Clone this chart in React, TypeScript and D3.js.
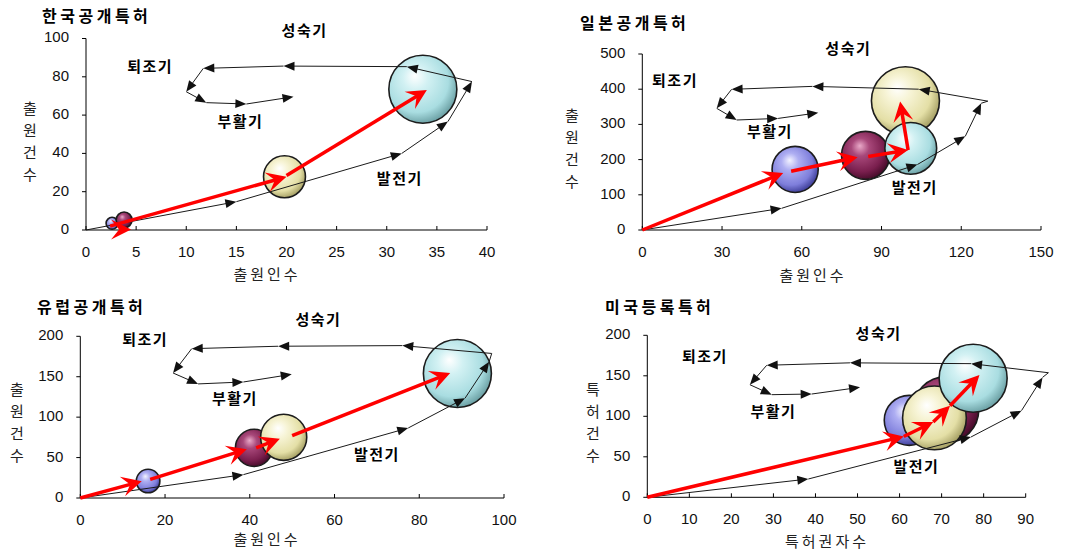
import React from 'react';
import * as d3 from 'd3';

const W = 1070;
const H = 556;
const FONT_KR = "'Noto Sans CJK KR', 'Noto Sans', sans-serif";
const FONT_NUM = "'Liberation Sans', Arial, sans-serif";

// ---------- data ----------
const titles = ['한국공개특허', '일본공개특허', '유럽공개특허', '미국등록특허'];
const xTitles = ['출원인수', '출원인수', '출원인수', '특허권자수'];
const yTitles = ['출원건수', '출원건수', '출원건수', '특허건수'];
const xMaxes = [40, 150, 100, 90];
const xSteps = [5, 30, 20, 10];
const yMaxes = [100, 500, 200, 200];
const ySteps = [20, 100, 50, 50];
const stageNames = ['성숙기', '퇴조기', '부활기', '발전기'];

// bubbles (drawing order) : x, y, size, colour key
const koreaBubbleX = [2.6, 3.8, 19.8, 33.6];
const koreaBubbleY = [3.5, 5.2, 27.8, 73.5];
const koreaBubbleSize = [3.1, 5.5, 38, 100];
const koreaBubbleKey = ['blue', 'maroon', 'yellow', 'cyan'];

const japanBubbleX = [99, 57.5, 84, 101];
const japanBubbleY = [367, 172, 212, 232];
const japanBubbleSize = [100, 46, 50, 58];
const japanBubbleKey = ['yellow', 'blue', 'maroon', 'cyan'];

const europeBubbleX = [16, 41, 48, 89];
const europeBubbleY = [21, 62, 75, 154];
const europeBubbleSize = [12, 30, 46, 100];
const europeBubbleKey = ['blue', 'maroon', 'yellow', 'cyan'];

const usaBubbleX = [62.3, 71, 68.3, 77.5];
const usaBubbleY = [95, 108, 98, 147];
const usaBubbleSize = [54, 94, 88, 100];
const usaBubbleKey = ['blue', 'maroon', 'yellow', 'cyan'];

// red trend arrows [x1, y1, x2, y2]
const koreaRed = [[3.6, 0.2, 3.9, 4.6], [2.4, 2.0, 20, 27.8], [20, 28.5, 34, 73.1]];
const japanRed = [[0, 0, 53, 162], [56, 167, 81, 207], [85, 209, 100, 227], [100, 227, 97, 365]];
const europeRed = [[0, 0, 14.5, 20.7], [16.5, 23, 39.3, 60.3], [41.5, 62, 47.1, 73.4], [50, 77, 87.3, 154.6]];
const usaRed = [[0, 0, 61, 75], [61, 75, 68, 93], [68, 93, 72, 113], [72, 113, 79, 151]];

// life-cycle path [x, y, arrowhead at this point]
const koreaCycle = [[0, 0, 0], [15, 14.8, 1], [31.5, 40, 1], [36.1, 56.6, 1], [38.5, 77.5, 1], [32, 85.3, 1], [19.7, 85.6, 1], [11.7, 84.4, 1], [10.0, 72.2, 1], [12, 66.5, 1], [16, 65.8, 1], [20.7, 69.6, 1]];
const japanCycle = [[0, 0, 0], [52.4, 61.6, 1], [103.5, 186, 1], [121.5, 266, 1], [127.5, 360, 1], [130, 366, 0], [104, 400, 1], [64, 408, 1], [33.6, 399.6, 1], [28, 345.6, 1], [35.5, 312.5, 1], [51.1, 317, 1], [66.2, 333, 1]];
const europeCycle = [[0, 0, 0], [38.5, 28.9, 1], [77.4, 86.6, 1], [90.8, 123.4, 1], [96.5, 168.6, 1], [97.1, 178.8, 0], [76, 188.5, 1], [46.7, 187.7, 1], [26.3, 184.7, 1], [21.9, 154.6, 1], [27.8, 141.1, 1], [38.5, 143.5, 1], [49.9, 153, 1]];
const usaCycle = [[0, 0, 0], [38.3, 22.6, 1], [77, 74.5, 1], [89, 107, 1], [94, 148, 1], [95.4, 153.8, 0], [77, 165, 1], [48.2, 166, 1], [28.4, 163, 1], [24.4, 139, 1], [29.6, 126.7, 1], [39.1, 127.5, 1], [50.6, 135.8, 1]];

// stage label anchors (data coords) in order of stageNames
const koreaStages = [[21.8, 103.4], [6.4, 84.6], [15.4, 55.9], [31.3, 26]];
const japanStages = [[77.5, 511], [12.3, 421], [48, 275], [102.5, 118]];
const europeStages = [[56.2, 218.6], [15.3, 193.9], [36.5, 121.6], [70, 51.6]];
const usaStages = [[55, 200.7], [13.7, 172], [30, 104], [64, 36]];

// ---------- layout ----------
const frames = [
  { x0: 86, x1: 487, y0: 230, y1: 38.5, title: [42, 18], xt: [267, 276], yt: [30, 110] },
  { x0: 642.3, x1: 1041, y0: 230, y1: 54, title: [580, 25], xt: [813, 277], yt: [572, 117] },
  { x0: 80.3, x1: 504, y0: 498, y1: 336.3, title: [37, 309], xt: [267, 541], yt: [17, 391] },
  { x0: 647.3, x1: 1025.7, y0: 497.3, y1: 335.3, title: [605, 309], xt: [827, 543], yt: [593, 391] },
];

const bubbleSets = [
  { x: koreaBubbleX, y: koreaBubbleY, s: koreaBubbleSize, k: koreaBubbleKey },
  { x: japanBubbleX, y: japanBubbleY, s: japanBubbleSize, k: japanBubbleKey },
  { x: europeBubbleX, y: europeBubbleY, s: europeBubbleSize, k: europeBubbleKey },
  { x: usaBubbleX, y: usaBubbleY, s: usaBubbleSize, k: usaBubbleKey },
];
const redSets = [koreaRed, japanRed, europeRed, usaRed];
const cycleSets = [koreaCycle, japanCycle, europeCycle, usaCycle];
const stageSets = [koreaStages, japanStages, europeStages, usaStages];

const gradStops: Record<string, string[]> = {
  cyan: ['#ffffff', '#d2f1f3', '#a9dde1', '#6a9fa3'],
  yellow: ['#ffffff', '#f7f4d6', '#e4dfa6', '#a49e62'],
  maroon: ['#e9a9c8', '#a8487a', '#7a1f4e', '#450b29'],
  blue: ['#f2f2ff', '#aeaef2', '#7e7edb', '#3c3c96'],
};

const rScale = d3.scaleSqrt().domain([0, 100]).range([0, 34]);

function shorten(x1: number, y1: number, x2: number, y2: number, d: number) {
  const dx = x2 - x1, dy = y2 - y1;
  const L = Math.hypot(dx, dy) || 1;
  const k = Math.max(0, (L - d) / L);
  return [x1 + dx * k, y1 + dy * k];
}

function PanelView({ i }: { i: number }) {
  const f = frames[i];
  const xs = d3.scaleLinear().domain([0, xMaxes[i]]).range([f.x0, f.x1]);
  const ys = d3.scaleLinear().domain([0, yMaxes[i]]).range([f.y0, f.y1]);
  const xTicks = d3.range(0, xMaxes[i] + xSteps[i] / 2, xSteps[i]);
  const yTicks = d3.range(0, yMaxes[i] + ySteps[i] / 2, ySteps[i]);
  const b = bubbleSets[i];
  const cyc = cycleSets[i];
  const segs: any[] = [];
  for (let j = 1; j < cyc.length; j++) {
    const [ax, ay] = [xs(cyc[j - 1][0]), ys(cyc[j - 1][1])];
    const [bx, by] = [xs(cyc[j][0]), ys(cyc[j][1])];
    const arrow = cyc[j][2] === 1;
    const [ex, ey] = arrow ? shorten(ax, ay, bx, by, 3) : [bx, by];
    segs.push(
      <line key={'c' + j} x1={ax} y1={ay} x2={ex} y2={ey} stroke="#1a1a1a" strokeWidth={1}
        markerEnd={arrow ? 'url(#blackHead)' : undefined} />
    );
  }
  return (
    <g>
      {/* axes */}
      <line x1={f.x0} y1={f.y0} x2={f.x1} y2={f.y0} stroke="#000" strokeWidth={1} />
      <line x1={f.x0} y1={f.y0} x2={f.x0} y2={f.y1} stroke="#000" strokeWidth={1} />
      {xTicks.map((t) => (
        <g key={'xt' + t}>
          <line x1={xs(t)} x2={xs(t)} y1={f.y0} y2={f.y0 - 4} stroke="#000" />
          <text x={xs(t)} y={f.y0 + 23} textAnchor="middle" dominantBaseline="middle"
            fontFamily={FONT_NUM} fontSize={15} fill="#111">{t}</text>
        </g>
      ))}
      {yTicks.map((t) => (
        <g key={'yt' + t}>
          <line x1={f.x0} x2={f.x0 - 4} y1={ys(t)} y2={ys(t)} stroke="#000" />
          <text x={f.x0 - 17} y={ys(t)} textAnchor="end" dominantBaseline="middle"
            fontFamily={FONT_NUM} fontSize={15} fill="#111">{t}</text>
        </g>
      ))}
      {/* titles */}
      <text x={f.title[0]} y={f.title[1]} dominantBaseline="middle" fontFamily={FONT_KR}
        fontWeight="bold" fontSize={16} letterSpacing={3.5} fill="#000">{titles[i]}</text>
      <text x={f.xt[0]} y={f.xt[1]} textAnchor="middle" dominantBaseline="middle" fontFamily={FONT_KR}
        fontSize={15} letterSpacing={3} fill="#222">{xTitles[i]}</text>
      {yTitles[i].split('').map((ch, j) => (
        <text key={'yl' + j} x={f.yt[0]} y={f.yt[1] + j * 22} textAnchor="middle" dominantBaseline="middle"
          fontFamily={FONT_KR} fontSize={15} fill="#222">{ch}</text>
      ))}
      {/* bubbles */}
      {b.x.map((_, j) => (
        <circle key={'b' + j} cx={xs(b.x[j])} cy={ys(b.y[j])} r={rScale(b.s[j])}
          fill={`url(#grad-${b.k[j]})`} stroke="#1c1c1c" strokeWidth={1.6} />
      ))}
      {/* life-cycle path */}
      {segs}
      {/* red arrows */}
      {redSets[i].map((r, j) => {
        const ax = xs(r[0]), ay = ys(r[1]), bx = xs(r[2]), by = ys(r[3]);
        const [ex, ey] = shorten(ax, ay, bx, by, 9);
        return (
          <line key={'r' + j} x1={ax} y1={ay} x2={ex} y2={ey} stroke="#ff0000" strokeWidth={3.5}
            markerEnd="url(#redHead)" />
        );
      })}
      {/* stage labels */}
      {stageSets[i].map((p, j) => (
        <text key={'s' + j} x={xs(p[0])} y={ys(p[1])} textAnchor="middle" dominantBaseline="middle"
          fontFamily={FONT_KR} fontWeight="bold" fontSize={15} letterSpacing={1.5} fill="#000">{stageNames[j]}</text>
      ))}
    </g>
  );
}

export default function App() {
  return (
    <svg width={W} height={H} viewBox={`0 0 ${W} ${H}`}
      style={{ position: 'absolute', left: 0, top: 0, background: '#fff' }}>
      <defs>
        {Object.keys(gradStops).map((k) => (
          <radialGradient key={k} id={`grad-${k}`} cx="42%" cy="40%" r="62%" fx="38%" fy="30%">
            <stop offset="0%" stopColor={gradStops[k][0]} />
            <stop offset="30%" stopColor={gradStops[k][1]} />
            <stop offset="75%" stopColor={gradStops[k][2]} />
            <stop offset="100%" stopColor={gradStops[k][3]} />
          </radialGradient>
        ))}
        <marker id="redHead" viewBox="-21 -11 23 22" refX={-9} refY={0} markerWidth={23} markerHeight={22}
          markerUnits="userSpaceOnUse" orient="auto">
          <path d="M0,0 L-20,-10 L-12,0 L-20,10 Z" fill="#ff0000" />
        </marker>
        <marker id="blackHead" viewBox="-12 -6 13 12" refX={-3} refY={0} markerWidth={13} markerHeight={12}
          markerUnits="userSpaceOnUse" orient="auto">
          <path d="M0,0 L-11,-4.5 L-11,4.5 Z" fill="#111" />
        </marker>
      </defs>
      <rect x={0} y={0} width={W} height={H} fill="#fff" />
      {[0, 1, 2, 3].map((i) => <PanelView key={i} i={i} />)}
    </svg>
  );
}
